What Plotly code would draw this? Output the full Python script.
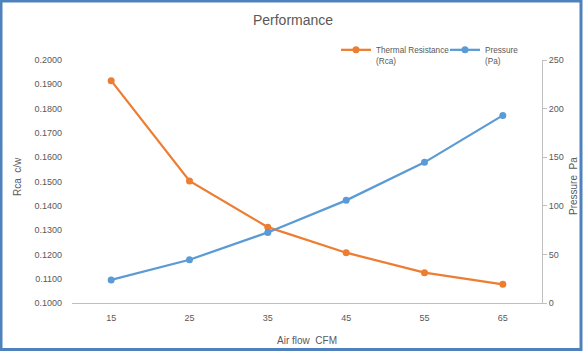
import plotly.graph_objects as go

airflow = ["15", "25", "35", "45", "55", "65"]
thermal_resistance = [0.1915, 0.1502, 0.1312, 0.1207, 0.1125, 0.1077]
pressure = [23.7, 44.5, 72.6, 105.6, 144.7, 193.0]

W, H = 583, 351
L, R, T, B = 72, 41, 60, 48
pw, ph = W - L - R, H - T - B

grey = "#595959"
font = "Liberation Sans"

fig = go.Figure()
fig.add_trace(go.Scatter(
    x=airflow, y=thermal_resistance, name="Thermal Resistance<br>(Rca)",
    mode="lines+markers", line=dict(color="#ED7D31", width=2.25),
    marker=dict(size=7, color="#ED7D31"), yaxis="y", legend="legend"))
fig.add_trace(go.Scatter(
    x=airflow, y=pressure, name="Pressure<br>(Pa)",
    mode="lines+markers", line=dict(color="#5B9BD5", width=2.25),
    marker=dict(size=7, color="#5B9BD5"), yaxis="y2", legend="legend2"))

def px_x(x):
    return (x - L) / pw

def px_y(y):
    return (H - B - y) / ph

leg_common = dict(orientation="h", xanchor="left", yanchor="top", valign="top",
                  font=dict(size=8.2, color=grey), bgcolor="rgba(0,0,0,0)",
                  itemwidth=30)

fig.update_layout(
    width=W, height=H,
    margin=dict(l=L, r=R, t=T, b=B),
    paper_bgcolor="white", plot_bgcolor="white",
    font=dict(family=font, size=9, color=grey),
    title=dict(text="Performance", x=293 / W, xanchor="center",
               y=1 - 20 / H, yanchor="middle", yref="container",
               font=dict(size=14, color=grey, family=font)),
    showlegend=True,
    legend=dict(x=px_x(336), y=px_y(38), **leg_common),
    legend2=dict(x=px_x(445), y=px_y(38), **leg_common),
    xaxis=dict(type="category", range=[-0.5, 5.5],
               showline=True, linecolor="#BFBFBF", linewidth=1,
               showgrid=False, ticks="", zeroline=False,
               tickfont=dict(size=9, color=grey), ticklabelstandoff=6),
    yaxis=dict(range=[0.1, 0.2], dtick=0.01, tick0=0.1, tickformat=".4f",
               showline=False, showgrid=False, zeroline=False, ticks="",
               tickfont=dict(size=9, color=grey), ticklabelstandoff=9),
    yaxis2=dict(range=[0, 250], dtick=50, overlaying="y", side="right",
                showline=True, linecolor="#BFBFBF", linewidth=1,
                ticks="outside", ticklen=4, tickcolor="#BFBFBF",
                showgrid=False, zeroline=False,
                tickfont=dict(size=9, color=grey)),
    shapes=[dict(type="rect", xref="paper", yref="paper",
                 x0=px_x(1), x1=px_x(581), y0=px_y(349.5), y1=px_y(1),
                 line=dict(color="#4F81BD", width=3), layer="above")],
    annotations=[
        dict(text="Rca  c/w", xref="paper", yref="paper", x=px_x(17), y=px_y(177),
             textangle=-90, showarrow=False, font=dict(size=10, color=grey),
             xanchor="center", yanchor="middle"),
        dict(text="Pressure  Pa", xref="paper", yref="paper", x=px_x(573), y=px_y(186),
             textangle=-90, showarrow=False, font=dict(size=10, color=grey),
             xanchor="center", yanchor="middle"),
        dict(text="Air flow  CFM", xref="paper", yref="paper", x=px_x(307), y=px_y(340),
             showarrow=False, font=dict(size=10, color=grey),
             xanchor="center", yanchor="middle"),
    ],
)

fig.write_html("out.html")
